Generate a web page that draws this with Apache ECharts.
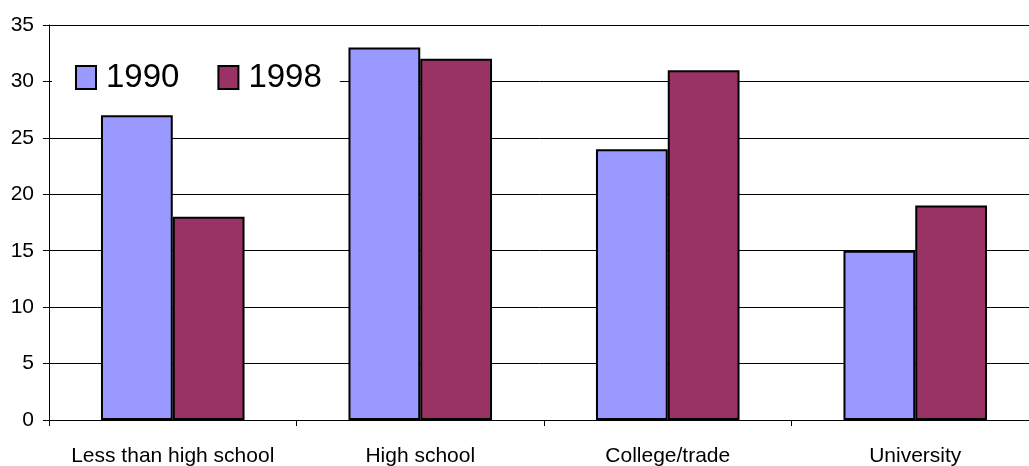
<!DOCTYPE html>
<html>
<head>
<meta charset="utf-8">
<script src="https://cdn.jsdelivr.net/npm/echarts@6/dist/echarts.min.js"></script>
<style>
  html, body { margin: 0; padding: 0; background: #fff; }
  #chart { width: 1029px; height: 466px; }
</style>
</head>
<body>
<div id="chart"></div>
<script>
// education level shares
var categories = ['Less than high school', 'High school', 'College/trade', 'University'];
var data1990 = [27, 33, 24, 15];
var data1998 = [18, 32, 31, 19];

var chart = echarts.init(document.getElementById('chart'));

var font = 'Liberation Sans, Arial, sans-serif';

var option = {
  animation: false,
  backgroundColor: '#fff',
  grid: { left: 49, width: 990, top: 25, bottom: 46, outerBoundsMode: 'none', containLabel: false },
  legend: {
    left: 52,
    top: 53,
    backgroundColor: '#fff',
    padding: [8, 18, 8, 23],
    icon: 'rect',
    itemWidth: 20,
    itemHeight: 23,
    itemGap: 38,
    textStyle: { fontSize: 33, color: '#000', fontFamily: font, padding: [0, 0, 0, 5] },
    data: ['1990', '1998']
  },
  xAxis: {
    type: 'category',
    data: categories,
    axisLine: { lineStyle: { color: '#000', width: 1 } },
    axisTick: { show: true, interval: 0, length: 6, lineStyle: { color: '#000' } },
    axisLabel: { color: '#000', fontSize: 21, fontFamily: font, margin: 26, interval: 0, hideOverlap: false }
  },
  yAxis: {
    type: 'value',
    min: 0,
    max: 35,
    interval: 5,
    axisLine: { show: true, lineStyle: { color: '#000', width: 1 } },
    axisTick: { show: true, length: 6, lineStyle: { color: '#000' } },
    axisLabel: { color: '#000', fontSize: 21, fontFamily: font, margin: 15 },
    splitLine: { show: true, lineStyle: { color: '#000', width: 1 } }
  },
  series: [
    {
      name: '1990',
      type: 'bar',
      data: data1990,
      barGap: '0%',
      barCategoryGap: '42%',
      itemStyle: { color: '#9999FF', borderColor: '#000', borderWidth: 2 }
    },
    {
      name: '1998',
      type: 'bar',
      data: data1998,
      itemStyle: { color: '#993366', borderColor: '#000', borderWidth: 2 }
    }
  ]
};

chart.setOption(option);
</script>
</body>
</html>
